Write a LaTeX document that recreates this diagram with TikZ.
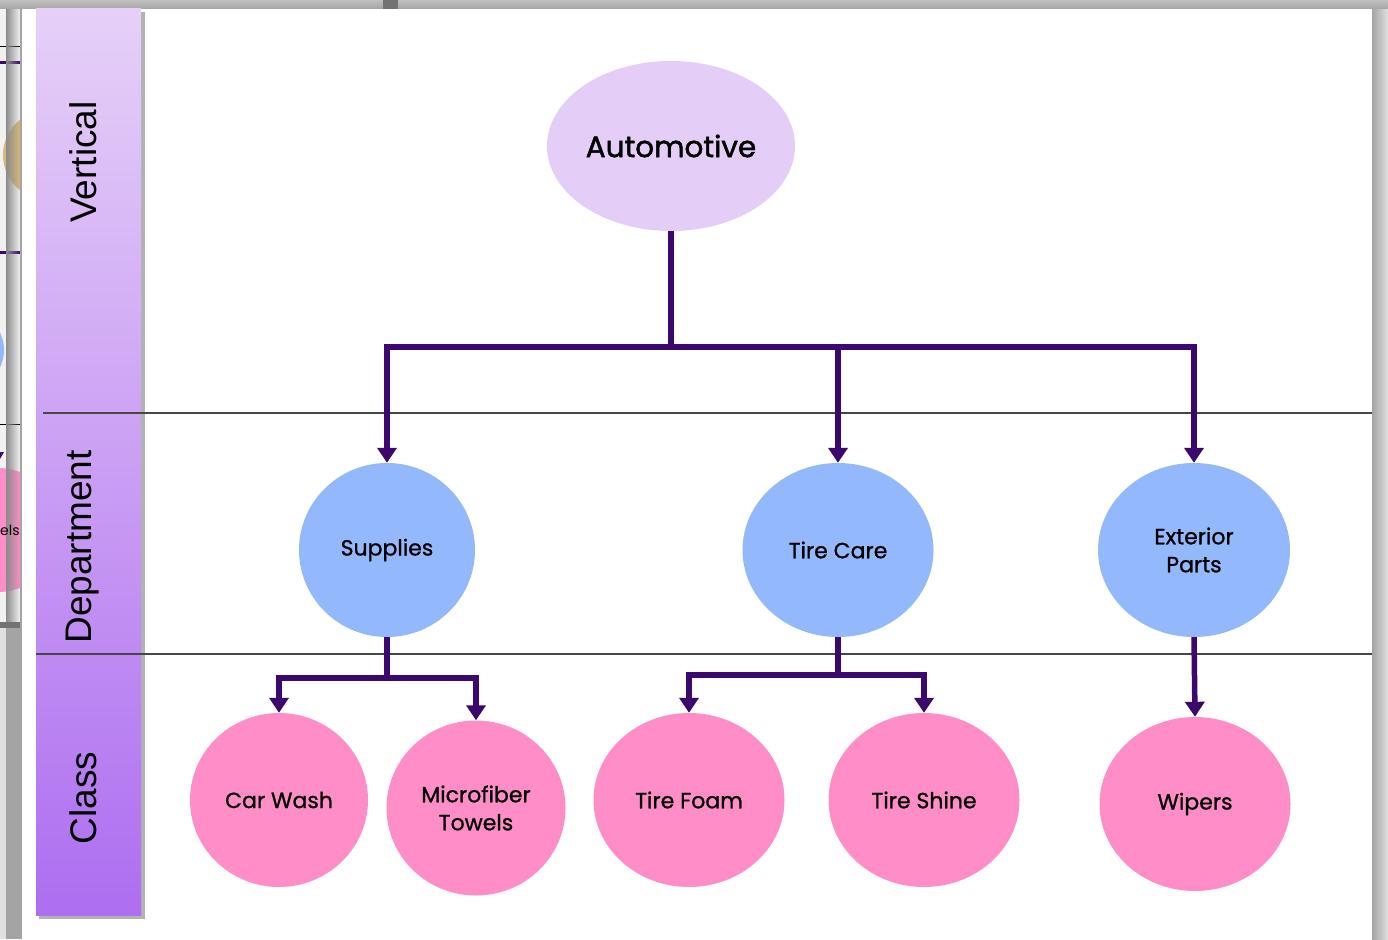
\documentclass[tikz,border=0pt]{standalone}
\usepackage{fontspec}
\setmainfont{Poppins}
\newfontfamily\nodefont{Poppins}[FakeBold=0.9]
\newfontfamily\topfont{Poppins}[FakeBold=1.6]
\newfontfamily\bandfont{Liberation Sans}
\usetikzlibrary{shapes.geometric,arrows.meta,fadings}
\definecolor{lav}{RGB}{228,206,248}
\definecolor{dblue}{RGB}{147,185,252}
\definecolor{cpink}{RGB}{255,142,200}
\definecolor{cline}{RGB}{60,8,110}
\definecolor{bandtop}{RGB}{230,208,248}
\definecolor{bandbot}{RGB}{174,110,240}
\definecolor{framegray}{RGB}{164,164,164}
\definecolor{tan}{RGB}{214,184,122}
\tikzset{
  bub/.style={ellipse,inner sep=0pt,minimum height=174pt,font=\nodefont\fontsize{22}{28}\selectfont,align=center,text=black},
  deptbub/.style={bub,fill=dblue},
  classbub/.style={bub,fill=cpink},
  conn/.style={draw=cline,line width=5.5pt},
  arr/.style={conn,-{Triangle[width=19pt,length=15pt]}},
  sepline/.style={draw=black!72,line width=1.3pt},
  bandlabel/.style={rotate=90,font=\bandfont\fontsize{37}{40}\selectfont,text=black}
}
\begin{document}
\begin{tikzpicture}[x=1pt,y=-1pt]
\useasboundingbox (0,0) rectangle (1388,939);
% outer frame (screen background)
\fill[framegray] (0,0) rectangle (1388,939);
\shade[left color=framegray,right color=black!12] (1372,0) rectangle (1388,939);
\shade[top color=black!25,bottom color=framegray] (0,0) rectangle (1388,9);
\fill[black!55] (383,0) rectangle (398,9);
% back window fragment on the left
\begin{scope}
\clip (0,9) rectangle (20,625);
\fill[black!5] (0,9) rectangle (20,625);
\draw[black,line width=1pt] (0,47) -- (20,47);
\draw[cline,line width=3pt] (0,63) -- (20,63);
\fill[tan] (48,155) circle (45);
\draw[cline,line width=3pt] (0,252) -- (20,252);
\fill[dblue] (-36,350) circle (40);
\draw[black,line width=1pt] (0,424) -- (20,424);
\fill[cline] (0,452) -- (4,452) -- (0,459) -- cycle;
\fill[cpink] (-2,530) circle (62);
\fill[black!45,path fading=east] (6,9) rectangle (20,625);
\end{scope}
\node[font=\fontsize{14}{16}\selectfont,anchor=west,inner sep=0pt] (els) at (0,530) {els};
\fill[black!55] (0,622) rectangle (20,628);
\fill[black!12] (0,628) rectangle (6,939);
% main white slide
\fill[white] (22,9) rectangle (1372,939);
% band with shadow
\fill[black!30] (39,12) rectangle (145,919);
\shade[top color=bandtop,bottom color=bandbot] (36,9) rectangle (141,915);
% separator lines
\draw[sepline] (43,413) -- (1372,413);
\draw[sepline] (36,654) -- (1372,654);
% band labels
\node[bandlabel] (lv) at (83,162) {Vertical};
\node[bandlabel] (ld) at (83,547) {Department};
\node[bandlabel] (lc) at (83,798) {Class};
% nodes
\node[bub,fill=lav,minimum width=248pt,minimum height=170pt,font=\topfont\fontsize{29.5}{32}\selectfont] (auto) at (671,146) {Automotive};
\node[deptbub,minimum width=176pt] (sup) at (387,550) {Supplies};
\node[deptbub,minimum width=191pt] (tire) at (838,550) {Tire Care};
\node[deptbub,minimum width=192pt] (ext) at (1194,550) {Exterior\\Parts};
\node[classbub,minimum width=178pt] (cw) at (279,800) {Car Wash};
\node[classbub,minimum width=179pt,minimum height=175pt] (mt) at (476,808) {Microfiber\\Towels};
\node[classbub,minimum width=191pt] (tf) at (689,800) {Tire Foam};
\node[classbub,minimum width=191pt] (ts) at (924,800) {Tire Shine};
\node[classbub,minimum width=191pt] (wp) at (1195,804) {Wipers};
% connectors
\coordinate (j1) at (671,347);
\coordinate (j2) at (387,678);
\coordinate (j3) at (838,675);
\draw[conn] (auto.south) -- (j1);
\draw[arr] (j1) -| (sup.north);
\draw[arr] (j1) -| (tire.north);
\draw[arr] (j1) -| (ext.north);
\draw[conn] (sup.south) -- (j2);
\draw[arr] (j2) -| (cw.north);
\draw[arr] (j2) -| (mt.north);
\draw[conn] (tire.south) -- (j3);
\draw[arr] (j3) -| (tf.north);
\draw[arr] (j3) -| (ts.north);
\draw[arr] (ext.south) -- (wp.north);
\end{tikzpicture}
\end{document}
